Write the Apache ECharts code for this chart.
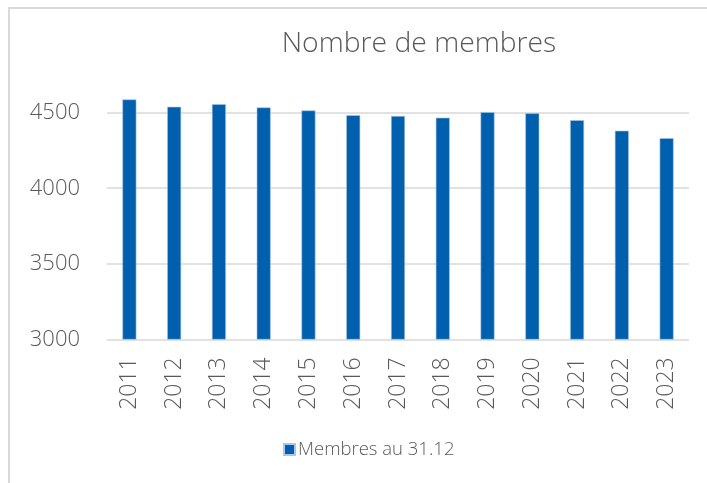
<!DOCTYPE html>
<html>
<head>
<meta charset="utf-8">
<script src="https://cdn.jsdelivr.net/npm/echarts@6/dist/echarts.min.js"></script>
<style>
  html, body { margin: 0; padding: 0; background: #fff; }
  #main { width: 707px; height: 483px; }
</style>
</head>
<body>
<div id="main"></div>
<script>
var years = ['2011', '2012', '2013', '2014', '2015', '2016', '2017', '2018', '2019', '2020', '2021', '2022', '2023'];
var members = [4588, 4539, 4557, 4535, 4515, 4484, 4478, 4467, 4504, 4496, 4451, 4381, 4332];
var seriesName = 'Membres au 31.12';

var chartDom = document.getElementById('main');
var myChart = echarts.init(chartDom);
var option;

var textFont = '"Open Sans", sans-serif';

option = {
    animation: false,
    textStyle: { fontFamily: textFont },
    graphic: [{
        type: 'rect',
        shape: { x: 9, y: 8, width: 900, height: 700 },
        style: { fill: 'none', stroke: '#d9d9d9', lineWidth: 2 },
        silent: true
    }],
    title: {
        text: 'Nombre de membres',
        left: 414,
        textAlign: 'center',
        top: 25,
        textStyle: {
            fontFamily: textFont,
            fontSize: 28.3,
            fontWeight: 300,
            color: '#595959'
        }
    },
    legend: {
        data: [seriesName],
        left: 283,
        top: 440,
        padding: 0,
        icon: 'rect',
        itemWidth: 11,
        itemHeight: 11,
        itemGap: 4,
        textStyle: {
            fontFamily: textFont,
            fontSize: 18.5,
            fontWeight: 300,
            color: '#595959',
            padding: [0, 0, 0, -2]
        }
    },
    grid: {
        left: 107,
        right: 18,
        top: 97.6,
        bottom: 143.7,
        containLabel: false
    },
    xAxis: {
        type: 'category',
        data: years,
        axisLine: { show: false },
        axisTick: { show: false },
        axisLabel: {
            rotate: 90,
            margin: 18,
            fontFamily: textFont,
            fontSize: 23,
            fontWeight: 300,
            color: '#595959'
        }
    },
    yAxis: {
        type: 'value',
        min: 3000,
        max: 4600,
        interval: 500,
        axisLine: { show: false },
        axisTick: { show: false },
        axisLabel: {
            showMaxLabel: false,
            margin: 27,
            formatter: function (v) { return String(v); },
            fontFamily: textFont,
            fontSize: 22,
            fontWeight: 300,
            color: '#595959'
        },
        splitLine: {
            showMaxLine: false,
            lineStyle: { color: '#d9d9d9', width: 1.5 }
        }
    },
    series: [{
        name: seriesName,
        type: 'bar',
        data: members,
        barWidth: 14,
        itemStyle: {
            color: '#0060ad',
            borderColor: '#a9c8e6',
            borderWidth: 0.6
        }
    }]
};

option && myChart.setOption(option);
</script>
</body>
</html>
